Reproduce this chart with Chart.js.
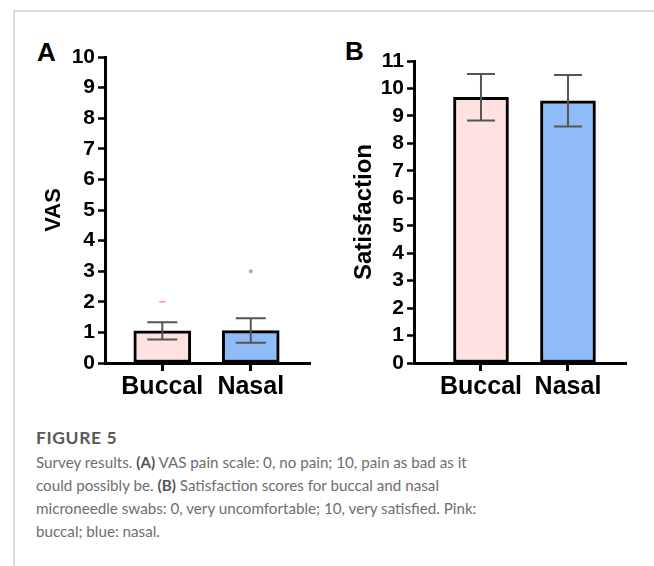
<!DOCTYPE html>
<html>
<head>
<meta charset="utf-8">
<script src="https://cdn.jsdelivr.net/npm/chart.js@4.4.0/dist/chart.umd.min.js"></script>
<style>
  html, body { margin: 0; padding: 0; background: #fff; }
  body { width: 654px; height: 566px; position: relative; overflow: hidden; }
  .frame { position: absolute; left: 13px; top: 10px; width: 641px; height: 556px;
           border-top: 2px solid #dcdcdc; border-left: 2px solid #dcdcdc; box-sizing: border-box; }
  .panel-label { position: absolute; font: bold 26px "Liberation Sans", Arial, sans-serif; color: #000; line-height: 1; }
  .box { position: absolute; }
  #boxA { left: 20px; top: 30px; width: 300px; height: 380px; }
  #boxB { left: 320px; top: 30px; width: 320px; height: 380px; }
  .caption { position: absolute; left: 36px; top: 426px; white-space: nowrap;
             font-family: Lato, sans-serif; font-size: 15.2px; line-height: 23px; color: #6e6e6e; }
  .caption .fig { color: #5a5a5a; font-weight: bold; font-size: 17.5px; letter-spacing: 0.6px; margin-bottom: 2px; }
  .caption b { color: #555; }
</style>
</head>
<body>
<div class="frame"></div>
<div class="panel-label" style="left:37px;top:39px">A</div>
<div class="panel-label" style="left:345px;top:38px">B</div>
<div id="boxA" class="box"><canvas id="vasChart"></canvas></div>
<div id="boxB" class="box"><canvas id="satChart"></canvas></div>
<div class="caption">
  <div class="fig">FIGURE 5</div>
  Survey results. <b>(A)</b> VAS pain scale: 0, no pain; 10, pain as bad as it<br>
  could possibly be. <b>(B)</b> Satisfaction scores for buccal and nasal<br>
  microneedle swabs: 0, very uncomfortable; 10, very satisfied. Pink:<br>
  buccal; blue: nasal.
</div>
<script>
// ── Data ─────────────────────────────────────────────────────────
const categories = ['Buccal', 'Nasal'];
const barColors = ['#fde2e1', '#8fbcf7'];

const vasMean = [1.05, 1.06];
const vasSd = [0.28, 0.40];
const vasOutliers = [2, 3];
const vasMax = 10;

const satMean = [9.68, 9.55];
const satSd = [0.85, 0.94];
const satMax = 11;

const FONT = '"Liberation Sans", Arial, sans-serif';

// ── Error bars (mean ± SD) drawn on top of the bars ─────────────
const errorBars = {
  id: 'errorBars',
  afterDatasetsDraw(chart, args, opts) {
    const { ctx, scales: { x, y } } = chart;
    ctx.save();
    ctx.strokeStyle = '#555';
    ctx.lineWidth = 2;
    opts.mean.forEach((m, i) => {
      const px = x.getPixelForValue(i);
      const top = y.getPixelForValue(m + opts.sd[i]);
      const bot = y.getPixelForValue(m - opts.sd[i]);
      const half = opts.cap / 2;
      ctx.beginPath();
      ctx.moveTo(px, top); ctx.lineTo(px, bot);
      ctx.moveTo(px - half, top); ctx.lineTo(px + half, top);
      ctx.moveTo(px - half, bot); ctx.lineTo(px + half, bot);
      ctx.stroke();
    });
    ctx.restore();
  }
};

function makeChart(id, cfg) {
  const datasets = [{
    type: 'bar',
    data: cfg.mean.map((v, i) => ({ x: i, y: v })),
    backgroundColor: barColors,
    borderColor: '#000',
    borderWidth: 3,
    borderSkipped: false,
    barThickness: cfg.barWidth,
    order: 2
  }];
  if (cfg.outliers) {
    datasets.push({
      type: 'scatter',
      data: cfg.outliers.map((v, i) => ({ x: i, y: v })),
      pointStyle: ['line', 'circle'],
      pointRadius: [3, 1.2],
      borderColor: ['#e39a9a', '#aaa'],
      backgroundColor: ['#e39a9a', '#aaa'],
      borderWidth: 1.5,
      order: 1
    });
  }

  return new Chart(document.getElementById(id), {
    data: { datasets },
    options: {
      responsive: true,
      maintainAspectRatio: false,
      animation: false,
      layout: { padding: { left: 0, top: cfg.padTop, right: cfg.padRight, bottom: 0 } },
      plugins: {
        legend: { display: false },
        tooltip: { enabled: false },
        errorBars: { mean: cfg.mean, sd: cfg.sd, cap: cfg.cap }
      },
      scales: {
        x: {
          type: 'linear',
          min: cfg.xMin, max: cfg.xMax,
          offset: false,
          afterBuildTicks: s => { s.ticks = categories.map((c, i) => ({ value: i })); },
          afterFit: s => { s.height = 47; },
          ticks: {
            callback: v => categories[v] ?? '',
            color: '#000',
            font: { family: FONT, size: 25, weight: 'bold' },
            padding: 1,
            maxRotation: 0,
            autoSkip: false
          },
          grid: { drawOnChartArea: false, offset: false, tickLength: 8, tickWidth: 3, tickColor: '#000' },
          border: { color: '#000', width: 3 }
        },
        y: {
          min: 0, max: cfg.yMax,
          afterFit: s => { s.width = cfg.yWidth; },
          ticks: {
            stepSize: 1,
            autoSkip: false,
            color: '#000',
            font: { family: FONT, size: 21, weight: 'bold' },
            padding: 3
          },
          grid: { drawOnChartArea: false, tickLength: 7, tickWidth: 2.5, tickColor: '#000' },
          border: { color: '#000', width: 3 },
          title: {
            display: true,
            text: cfg.title,
            color: '#000',
            font: { family: FONT, size: cfg.titleSize, weight: 'bold' },
            padding: { top: cfg.titlePad, bottom: 0 }
          }
        }
      }
    },
    plugins: [errorBars]
  });
}

makeChart('vasChart', {
  mean: vasMean, sd: vasSd, outliers: vasOutliers, yMax: vasMax,
  title: 'VAS', titleSize: 22, titlePad: 21,
  xMin: -0.648, xMax: 1.67, barWidth: 57, cap: 30,
  yWidth: 85, padTop: 27, padRight: 10
});

makeChart('satChart', {
  mean: satMean, sd: satSd, yMax: satMax,
  title: 'Satisfaction', titleSize: 24, titlePad: 30,
  xMin: -0.77, xMax: 1.667, barWidth: 55, cap: 28,
  yWidth: 94, padTop: 31, padRight: 14
});
</script>
</body>
</html>
